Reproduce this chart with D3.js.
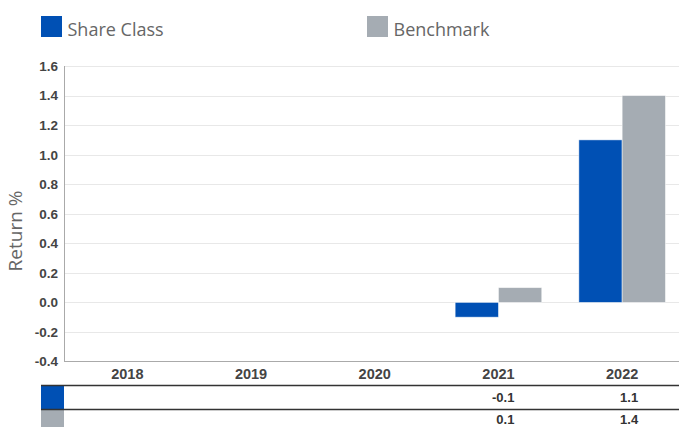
<!DOCTYPE html>
<html>
<head>
<meta charset="utf-8">
<script src="https://cdn.jsdelivr.net/npm/d3@7/dist/d3.min.js"></script>
<style>
  html, body { margin: 0; padding: 0; background: #fff; }
  svg { display: block; }
</style>
</head>
<body>
<svg id="chart" width="679" height="427"></svg>
<script>
const years = ["2018", "2019", "2020", "2021", "2022"];
const shareClass = [null, null, null, -0.1, 1.1];
const benchmark = [null, null, null, 0.1, 1.4];
const seriesNames = ["Share Class", "Benchmark"];
const seriesColors = ["#0050b4", "#a5acb3"];
const yTicks = [-0.4, -0.2, 0.0, 0.2, 0.4, 0.6, 0.8, 1.0, 1.2, 1.4, 1.6];

const W = 679, H = 427;
const svg = d3.select("#chart");

const plotLeft = 64.5, plotRight = 679;
const y = d3.scaleLinear().domain([-0.4, 1.6]).range([361.5, 66]);
const x = d3.scaleBand().domain(years).range([65.5, 684]).paddingInner(0.3).paddingOuter(0.15);
const xs = d3.scaleBand().domain(seriesNames).range([0, x.bandwidth()]);

// gridlines
svg.append("g").selectAll("line").data(yTicks.filter(t => t > -0.4)).join("line")
  .attr("x1", plotLeft).attr("x2", plotRight)
  .attr("y1", d => Math.round(y(d)) + 0.5).attr("y2", d => Math.round(y(d)) + 0.5)
  .attr("stroke", "#e8e8e8").attr("stroke-width", 1);

// y tick labels
svg.append("g").selectAll("text").data(yTicks).join("text")
  .attr("x", 58).attr("y", d => y(d))
  .attr("dy", "0.36em")
  .attr("text-anchor", "end")
  .attr("font-family", "Liberation Sans, Arial, sans-serif")
  .attr("font-weight", "bold").attr("font-size", 13.5)
  .attr("fill", "#444")
  .text(d => d.toFixed(1));

// axis lines
svg.append("line").attr("x1", plotLeft).attr("x2", plotLeft)
  .attr("y1", y(1.6)).attr("y2", y(-0.4) + 0.5)
  .attr("stroke", "#aaa").attr("stroke-width", 1);
svg.append("line").attr("x1", plotLeft).attr("x2", plotRight)
  .attr("y1", 361.5).attr("y2", 361.5)
  .attr("stroke", "#aaa").attr("stroke-width", 1);

// bars
const data = years.map((yr, i) => ({ yr, vals: [shareClass[i], benchmark[i]] }));
const groups = svg.append("g").selectAll("g").data(data).join("g")
  .attr("transform", d => `translate(${x(d.yr)},0)`);
groups.selectAll("rect")
  .data(d => d.vals.map((v, j) => ({ v, j })).filter(e => e.v !== null))
  .join("rect")
  .attr("x", e => xs(seriesNames[e.j]))
  .attr("width", xs.bandwidth())
  .attr("y", e => y(Math.max(0, e.v)))
  .attr("height", e => Math.abs(y(e.v) - y(0)))
  .attr("fill", e => seriesColors[e.j])
  .attr("stroke", "#fff").attr("stroke-width", 0.8).attr("stroke-opacity", 0.6);

// category labels
svg.append("g").selectAll("text").data(years).join("text")
  .attr("x", d => x(d) + x.bandwidth() / 2)
  .attr("y", 379)
  .attr("text-anchor", "middle")
  .attr("font-family", "Liberation Sans, Arial, sans-serif")
  .attr("font-weight", "bold").attr("font-size", 14.5)
  .attr("fill", "#444")
  .text(d => d);

// data table
const tableLeft = 41;
const rowTops = [385.5, 409.5];
const textOffsets = [11.5, 9.5];
const rowH = 24;
const tableSeries = [shareClass, benchmark];
rowTops.forEach((top, r) => {
  svg.append("rect").attr("x", tableLeft).attr("y", top)
    .attr("width", 23).attr("height", rowH + 1)
    .attr("fill", seriesColors[r]);
  svg.append("line").attr("x1", tableLeft).attr("x2", W)
    .attr("y1", top).attr("y2", top)
    .attr("stroke", "#333").attr("stroke-width", 1.6);
  svg.append("g").selectAll("text").data(tableSeries[r].map((v, i) => ({ v, i })).filter(e => e.v !== null))
    .join("text")
    .attr("x", e => x(years[e.i]) + x.bandwidth() / 2 + 16)
    .attr("y", top + textOffsets[r])
    .attr("dy", "0.36em")
    .attr("text-anchor", "end")
    .attr("font-family", "Liberation Sans, Arial, sans-serif")
    .attr("font-weight", "bold").attr("font-size", 13)
    .attr("fill", "#333")
    .text(e => e.v.toFixed(1));
});

// legend
const legendX = [41, 367];
seriesNames.forEach((name, i) => {
  svg.append("rect").attr("x", legendX[i]).attr("y", 16)
    .attr("width", 21).attr("height", 21).attr("fill", seriesColors[i]);
  svg.append("text").attr("x", legendX[i] + 26.5).attr("y", 36)
    .attr("font-family", "Open Sans, sans-serif").attr("font-size", 18)
    .attr("fill", "#666").text(name);
});

// y axis title
svg.append("text")
  .attr("transform", "translate(22,231) rotate(-90)")
  .attr("text-anchor", "middle")
  .attr("font-family", "Open Sans, sans-serif").attr("font-size", 19)
  .attr("fill", "#666")
  .text("Return %");
</script>
</body>
</html>
